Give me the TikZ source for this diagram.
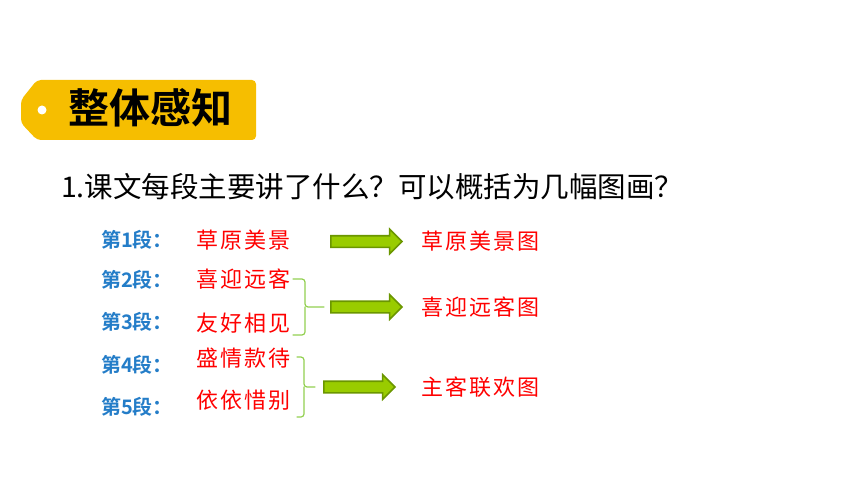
\documentclass[tikz,border=0pt]{standalone}
\usepackage{fontspec}
\setmainfont{Noto Sans CJK SC}
\newfontfamily\cjkbold{Noto Sans CJK SC Bold}
\newfontfamily\cjkhand[LetterSpace=10]{Noto Sans CJK SC}
\usepackage{tikz}
\usetikzlibrary{shapes.arrows,positioning}

\begin{document}
\begin{tikzpicture}[x=1pt,y=-1pt,line cap=rect,
    seglabel/.style={inner sep=0, outer sep=0, anchor=west, custcol_blue, font=\cjkbold\fontsize{20pt}{20pt}\selectfont},
    redtxt/.style={inner sep=0, outer sep=0, custcol_red, font=\cjkhand\fontsize{22pt}{22pt}\selectfont},
    fatarrow/.style={single arrow, draw=custcol_darkgreen, fill=custcol_green, line width=1.6pt, inner xsep=0pt, inner ysep=5pt, minimum height=71pt, single arrow head extend=6.5pt, single arrow head indent=0pt},
    brace/.style={line width=1.2pt, custcol_lightgreen, rounded corners=3pt, line cap=round}]
	\definecolor{custcol_yellow}{RGB}{246, 190, 0}
	\definecolor{custcol_blue}{RGB}{36, 125, 200}
	\definecolor{custcol_red}{RGB}{255, 0, 0}
	\definecolor{custcol_green}{RGB}{153, 204, 0}
	\definecolor{custcol_darkgreen}{RGB}{107, 150, 0}
	\definecolor{custcol_lightgreen}{RGB}{146, 208, 80}
	\useasboundingbox (0,0) rectangle (860,484);
	% tag with hole
	\fill [custcol_yellow, rounded corners=4pt] (37,80) -- (256,80) -- (256,140) -- (37,140) -- (21,123) -- (21,100) -- cycle;
	\fill [white] (42,110) circle (4.5);
	\node[inner sep=0, outer sep=0, font=\cjkbold\fontsize{41pt}{41pt}\selectfont] (tag) at (150,108) {整体感知};
	\node[inner sep=0, outer sep=0, anchor=west, font=\fontsize{28.5pt}{28.5pt}\selectfont] (question) at (61,187) {1.课文每段主要讲了什么？可以概括为几幅图画？};
	% paragraphs
	\foreach \n/\y in {1/240,2/280,3/322,4/365,5/407}
		\node[seglabel] (seg\n) at (101,\y) {第{\n}段：};
	\node[redtxt, anchor=west] (txt1) at (196,240) {草原美景};
	\node[redtxt, anchor=west] (txt2) at (196,279) {喜迎远客};
	\node[redtxt, anchor=west] (txt3) at (196,323) {友好相见};
	\node[redtxt, anchor=west] (txt4) at (196,358) {盛情款待};
	\node[redtxt, anchor=west] (txt5) at (196,400) {依依惜别};
	% arrows
	\node[fatarrow] (arr1) at (363.5,241.5) {};
	\node[fatarrow] (arr2) at (363.5,307) {};
	\node[fatarrow] (arr3) at (356.5,387) {};
	\node[redtxt, anchor=west, right=18pt of arr1] (pic1) {草原美景图};
	\node[redtxt, anchor=west, right=18pt of arr2] (pic2) {喜迎远客图};
	\node[redtxt, anchor=west, right=25pt of arr3] (pic3) {主客联欢图};
	% braces
	\coordinate (br1) at (305,307);
	\coordinate (br2) at (304,387);
	\draw [brace] (293,279) -| (br1) -- ([xshift=-6pt]arr2.west);
	\draw [brace] (293,335) -| (br1);
	\draw [brace] (297,357) -| (br2) -- ([xshift=-8pt]arr3.west);
	\draw [brace] (297,417) -| (br2);
\end{tikzpicture}
\end{document}
